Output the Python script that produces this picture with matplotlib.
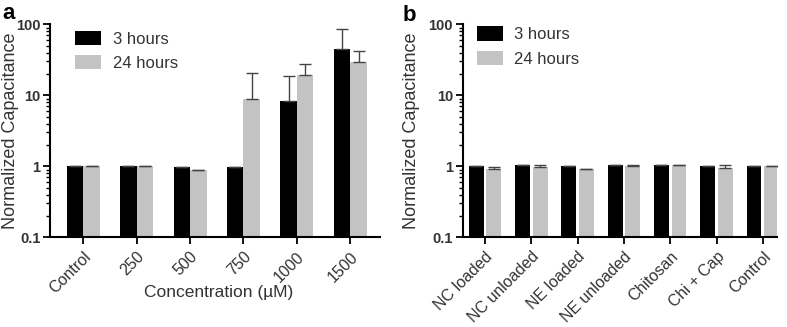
import numpy as np
import matplotlib
matplotlib.use("Agg")
import matplotlib.pyplot as plt
from matplotlib.ticker import LogLocator, FixedFormatter, FixedLocator, NullFormatter

plt.rcParams['font.family'] = ['Liberation Sans', 'DejaVu Sans']

# panel a: concentration series
conc_labels = ["Control", "250", "500", "750", "1000", "1500"]
conc_3h = [1.0, 1.0, 0.99, 0.97, 8.3, 45.0]
conc_3h_top = [1.0, 1.0, 0.99, 0.97, 19.0, 87.0]
conc_24h = [1.0, 1.0, 0.88, 8.8, 19.5, 29.0]
conc_24h_top = [1.01, 1.0, 0.89, 20.4, 28.0, 42.0]

# panel b: formulation series
form_labels = ["NC loaded", "NC unloaded", "NE loaded", "NE unloaded",
               "Chitosan", "Chi + Cap", "Control"]
form_3h = [1.02, 1.05, 1.02, 1.05, 1.04, 1.0, 1.01]
form_3h_top = [1.02, 1.05, 1.02, 1.05, 1.04, 1.01, 1.01]
form_24h = [0.93, 0.98, 0.91, 1.02, 1.03, 0.94, 1.01]
form_24h_top = [0.98, 1.03, 0.92, 1.03, 1.04, 1.04, 1.02]

BLACK = "#000000"
GRAY = "#c3c3c3"
TXT = "#333333"


def draw_panel(ax, labels, v3, t3, v24, t24, w, gap, xlim, leg_xy, ylab_x):
    x = np.arange(len(labels))
    v3 = np.array(v3); v24 = np.array(v24)
    e3 = np.array(t3) - v3
    e24 = np.array(t24) - v24
    ax.bar(x - gap - w / 2, v3, w, color=BLACK, label="3 hours")
    ax.bar(x + gap + w / 2, v24, w, color=GRAY, label="24 hours")
    ax.errorbar(x - gap - w / 2, v3, yerr=[np.zeros_like(e3), e3], fmt="none",
                ecolor="#444444", elinewidth=1, capsize=4, capthick=1)
    ax.errorbar(x + gap + w / 2, v24, yerr=[np.zeros_like(e24), e24], fmt="none",
                ecolor="#444444", elinewidth=1, capsize=4, capthick=1)
    ax.set_yscale("log")
    ax.set_ylim(0.1, 100)
    ax.set_xlim(*xlim)
    ax.yaxis.set_major_locator(FixedLocator([0.1, 1, 10, 100]))
    ax.yaxis.set_major_formatter(FixedFormatter(["0.1", "1", "10", "100"]))
    ax.yaxis.set_minor_locator(LogLocator(base=10, subs=np.arange(2, 10)))
    ax.yaxis.set_minor_formatter(NullFormatter())
    ax.set_xticks(x)
    ax.set_xticklabels(labels, rotation=45, ha="right", rotation_mode="anchor",
                       fontsize=11.5, color=TXT)
    for t in ax.get_yticklabels():
        t.set_fontweight("bold")
        t.set_fontsize(10.5)
        t.set_color(TXT)
    ax.spines["top"].set_visible(False)
    ax.spines["right"].set_visible(False)
    ax.spines["left"].set_linewidth(1.5)
    ax.spines["bottom"].set_linewidth(1.5)
    ax.tick_params(axis="both", which="major", length=5, width=1.3, direction="out")
    ax.tick_params(axis="y", which="major", pad=2)
    ax.tick_params(axis="y", which="minor", length=3, width=1, direction="out")
    ax.set_ylabel("Normalized Capacitance", fontsize=13, color=TXT)
    ax.yaxis.set_label_coords(ylab_x, 0.5)
    leg = ax.legend(loc="upper left", bbox_to_anchor=leg_xy, frameon=False,
                    borderpad=0, borderaxespad=0,
                    fontsize=12, handlelength=1.55, handleheight=0.95,
                    labelspacing=0.5, handletextpad=0.7)
    for t in leg.get_texts():
        t.set_color(TXT)


fig = plt.figure(figsize=(7.87, 3.27), dpi=100)
ax_a = fig.add_axes([0.0635, 0.2743, 0.4195, 0.6514])
ax_b = fig.add_axes([0.588, 0.2743, 0.399, 0.6514])

draw_panel(ax_a, conc_labels, conc_3h, conc_3h_top, conc_24h, conc_24h_top,
           w=0.31, gap=0.0, xlim=(-0.625, 5.56), leg_xy=(0.076, 0.97),
           ylab_x=-0.094)
ax_a.set_xlabel("Concentration (µM)", fontsize=12.5, color=TXT)
ax_a.xaxis.set_label_coords(0.51, -0.225)

draw_panel(ax_b, form_labels, form_3h, form_3h_top, form_24h, form_24h_top,
           w=0.32, gap=0.03, xlim=(-0.48, 6.3), leg_xy=(0.045, 0.99),
           ylab_x=-0.135)

fig.text(0.003, 0.99, "a", fontsize=16, fontweight="bold", va="top")
fig.text(0.511, 0.985, "b", fontsize=16, fontweight="bold", va="top")

fig.savefig("out.png", dpi=100)
